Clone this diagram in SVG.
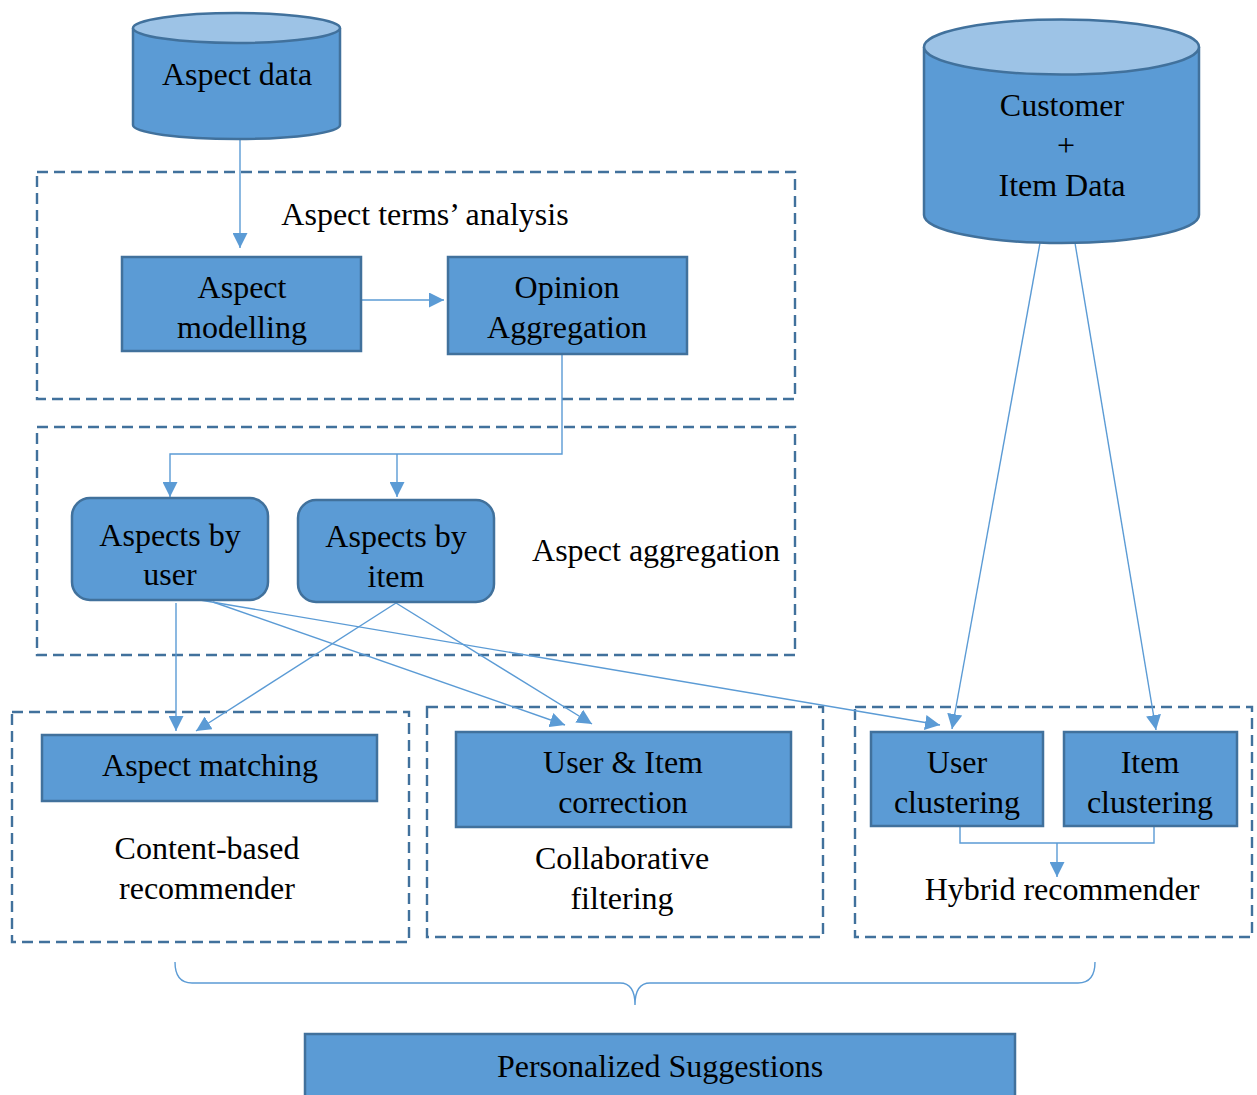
<svg xmlns="http://www.w3.org/2000/svg" width="1257" height="1095" viewBox="0 0 1257 1095">
  <defs>
    <marker id="arrow" markerUnits="userSpaceOnUse" markerWidth="15" markerHeight="15" refX="15" refY="7.5" orient="auto">
      <path d="M0,0 L15,7.5 L0,15 z" fill="#5B9BD5"/>
    </marker>
    <style>
      .box { fill: #5B9BD5; stroke: #41719C; stroke-width: 2.5; }
      .cyl-top { fill: #9DC3E6; stroke: #41719C; stroke-width: 2.5; }
      .group { fill: none; stroke: #41719C; stroke-width: 2.4; stroke-dasharray: 11 6; }
      .conn { fill: none; stroke: #5B9BD5; stroke-width: 1.4; }
      .arr { marker-end: url(#arrow); }
      text { font-family: "Liberation Serif", "Times New Roman", serif; font-size: 32px; fill: #000; text-anchor: middle; }
    </style>
  </defs>

  <!-- dashed grouping frames -->
  <g id="group-aspect-terms">
    <rect class="group" x="37" y="172" width="758" height="227"/>
    <text x="425" y="225">Aspect terms’ analysis</text>
  </g>
  <g id="group-aspect-aggregation">
    <rect class="group" x="37" y="427" width="758" height="228"/>
    <text x="656" y="561">Aspect aggregation</text>
  </g>
  <g id="group-content-based">
    <rect class="group" x="12" y="712" width="397" height="230"/>
    <text x="207" y="859">Content-based</text>
    <text x="207" y="899">recommender</text>
  </g>
  <g id="group-collaborative">
    <rect class="group" x="427" y="707" width="396" height="230"/>
    <text x="622" y="869">Collaborative</text>
    <text x="622" y="909">filtering</text>
  </g>
  <g id="group-hybrid">
    <rect class="group" x="855" y="707" width="397" height="230"/>
    <text x="1062" y="900">Hybrid recommender</text>
  </g>

  <!-- connectors -->
  <g id="connectors">
    <path class="conn arr" d="M240,139 V248"/>
    <path class="conn arr" d="M362,300 H444"/>
    <path class="conn arr" d="M562,354 V454 H170 V497"/>
    <path class="conn arr" d="M397,454 V497"/>
    <path class="conn arr" d="M176,603 V731"/>
    <path class="conn arr" d="M396,603 L196,731"/>
    <path class="conn arr" d="M213,602 L565,725"/>
    <path class="conn arr" d="M396,603 L592,724"/>
    <path class="conn arr" d="M200,600 L940,725"/>
    <path class="conn arr" d="M1040,243 L952,729"/>
    <path class="conn arr" d="M1075,243 L1156,730"/>
    <path class="conn" d="M960,826 V843 H1154 V826"/>
    <path class="conn arr" d="M1057,843 V877"/>
    <path class="conn" d="M175,962 Q175,983 192,983 H620 Q635,983 635,1005 Q635,983 650,983 H1078 Q1095,983 1095,962"/>
  </g>

  <!-- data stores -->
  <g id="aspect-data">
    <path class="box" d="M133,28 V125 A103.5,14 0 0 0 340,125 V28"/>
    <ellipse class="cyl-top" cx="236.5" cy="28" rx="103.5" ry="15"/>
    <text x="237" y="85">Aspect data</text>
  </g>
  <g id="customer-item-data">
    <path class="box" d="M924,47 V215 A137.5,28 0 0 0 1199,215 V47"/>
    <ellipse class="cyl-top" cx="1061.5" cy="47" rx="137.5" ry="27.5"/>
    <text x="1062" y="116">Customer</text>
    <text x="1066" y="156">+</text>
    <text x="1062" y="196">Item Data</text>
  </g>

  <!-- process nodes -->
  <g id="aspect-modelling">
    <rect class="box" x="122" y="257" width="239" height="94"/>
    <text x="242" y="298">Aspect</text>
    <text x="242" y="338">modelling</text>
  </g>
  <g id="opinion-aggregation">
    <rect class="box" x="448" y="257" width="239" height="97"/>
    <text x="567" y="298">Opinion</text>
    <text x="567" y="338">Aggregation</text>
  </g>
  <g id="aspects-by-user">
    <rect class="box" x="72" y="498" width="196" height="102" rx="18"/>
    <text x="170" y="546">Aspects by</text>
    <text x="170" y="585">user</text>
  </g>
  <g id="aspects-by-item">
    <rect class="box" x="298" y="500" width="196" height="102" rx="18"/>
    <text x="396" y="547">Aspects by</text>
    <text x="396" y="587">item</text>
  </g>
  <g id="aspect-matching">
    <rect class="box" x="42" y="735" width="335" height="66"/>
    <text x="210" y="776">Aspect matching</text>
  </g>
  <g id="user-item-correction">
    <rect class="box" x="456" y="732" width="335" height="95"/>
    <text x="623" y="773">User &amp; Item</text>
    <text x="623" y="813">correction</text>
  </g>
  <g id="user-clustering">
    <rect class="box" x="871" y="732" width="172" height="94"/>
    <text x="957" y="773">User</text>
    <text x="957" y="813">clustering</text>
  </g>
  <g id="item-clustering">
    <rect class="box" x="1064" y="732" width="173" height="94"/>
    <text x="1150" y="773">Item</text>
    <text x="1150" y="813">clustering</text>
  </g>
  <g id="personalized-suggestions">
    <rect class="box" x="305" y="1034" width="710" height="80"/>
    <text x="660" y="1077">Personalized Suggestions</text>
  </g>
</svg>
